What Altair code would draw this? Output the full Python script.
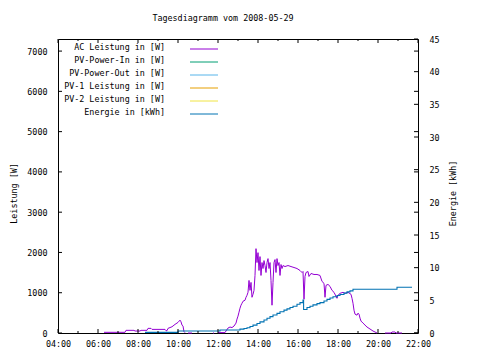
import altair as alt
import pandas as pd

FONT = "DejaVu Sans Mono"
FS = 8.4

title_text = "Tagesdiagramm vom 2008-05-29"
series_names = ["AC Leistung in [W]", "PV-Power-In in [W]", "PV-Power-Out in [W]",
                "PV-1 Leistung in [W]", "PV-2 Leistung in [W]", "Energie in [kWh]"]
series_colors = ["#9400d3", "#009e73", "#56b4e9", "#e69f00", "#f0e442", "#0072b2"]

# AC power (hours, W); None marks a gap in the recorded data
ac_hours = [6.3, 7.35, 7.4, 7.8, 7.85, 8.1, 8.15, 8.45, 8.5, 8.65, 8.7, 9.35, 9.4, 9.45, 9.5,
            9.7, 9.85, 10.0, 10.1, 10.15, 10.2, 10.25, 10.3, 10.35,
            None,
            10.5, 10.7,
            None,
            11.75, 11.8,
            None,
            12.0, 12.35, 12.4, 12.5, 12.6, 12.7, 12.8, 12.9, 12.95, 13.0, 13.05, 13.1, 13.15,
            13.2, 13.25, 13.35, 13.4, 13.45, 13.5, 13.55, 13.6, 13.65, 13.7, 13.75, 13.8,
            13.85, 13.9, 13.95, 14.0, 14.05, 14.1, 14.15, 14.2, 14.25, 14.3, 14.35, 14.4,
            14.45, 14.5, 14.55, 14.6, 14.65, 14.7, 14.75, 14.8, 14.85, 14.9, 14.95, 15.0,
            15.05, 15.1, 15.15, 15.2, 15.25, 15.35, 15.5, 15.65, 15.8, 15.95, 16.1, 16.2,
            16.25, 16.3, 16.35, 16.4, 16.5, 16.55, 16.65, 16.8, 16.95, 17.1, 17.2, 17.3,
            17.35, 17.4, 17.5, 17.6, 17.7, 17.8, 17.9, 17.95, 18.0, 18.1, 18.25, 18.35,
            18.5, 18.65, 18.7, 18.75, 18.8, 18.85, 18.95, 19.0, 19.05, 19.1, 19.15, 19.25,
            19.35, 19.45, 19.6, 19.75, 19.85, 19.95,
            None,
            20.35, 20.65, 20.7, 20.85, 20.9, 21.2]
ac_watts = [17, 17, 66, 66, 49, 49, 66, 66, 115, 115, 90, 90, 57, 57, 115,
            155, 214, 263, 320, 278, 197, 172, 32, 7,
            None,
            0, 0,
            None,
            0, 0,
            None,
            10, 10, 50, 123, 148, 135, 172, 246, 345, 419, 517, 616, 690,
            739, 788, 813, 887, 936, 1010, 1305, 1059, 1256, 887, 961, 1059,
            1429, 2094, 1749, 1995, 1552, 1897, 1429, 1749, 1601, 1798, 1675, 1502,
            1749, 1847, 1601, 1749, 1305, 690, 1256, 1749, 1823, 1502, 1847, 1675,
            1749, 1429, 1700, 1601, 1675, 1650, 1675, 1650, 1626, 1601, 1552, 1502,
            1527, 837, 1404, 1502, 1527, 1404, 1478, 1453, 1453, 1429, 1281, 1232,
            887, 1182, 1207, 1158, 1059, 1010, 911, 862, 936, 985, 1010, 985,
            1010, 961, 862, 739, 566, 468, 443, 493, 468, 369, 296, 246,
            197, 148, 99, 49, 25, 0,
            None,
            0, 0, 25, 25, 0, 0]

# Cumulative energy (hours, kWh)
energy_hours = [8.35, 10.0, 12.1, 13.1, 13.3, 13.45, 13.6, 13.75, 13.95, 14.1, 14.3, 14.45,
                14.6, 14.75, 14.95, 15.1, 15.3, 15.45, 15.6, 15.75, 15.95, 16.1, 16.25, 16.28,
                16.45, 16.6, 16.75, 16.95, 17.1, 17.3, 17.45, 17.6, 17.75, 17.95, 18.1, 18.3,
                18.45, 18.6, 18.75, 20.95, 21.7]
energy_kwh = [0.1, 0.3, 0.46, 0.6, 0.7, 0.8, 1.0, 1.2, 1.45, 1.7, 2.0, 2.25,
              2.5, 2.75, 3.0, 3.25, 3.5, 3.7, 3.9, 4.1, 4.4, 4.65, 5.05, 3.6,
              3.9, 4.1, 4.3, 4.5, 4.65, 4.9, 5.15, 5.35, 5.55, 5.75, 5.9, 6.1,
              6.3, 6.45, 6.7, 7.0, 7.0]

x_major = [4, 6, 8, 10, 12, 14, 16, 18, 20, 22]
x_minor = [5, 7, 9, 11, 13, 15, 17, 19, 21]
w_ticks = [0, 1000, 2000, 3000, 4000, 5000, 6000, 7000]
k_ticks = [0, 5, 10, 15, 20, 25, 30, 35, 40, 45]
W_DOMAIN = [0, 7300]
K_DOMAIN = [0, 45]
X_DOMAIN = [4, 22]

# --- build tables ---
rows, seg = [], 0
for h, w in zip(ac_hours, ac_watts):
    if h is None:
        seg += 1
        continue
    rows.append({"hour": h, "watts": w, "seg": seg, "series": series_names[0]})
ac_df = pd.DataFrame(rows)
en_df = pd.DataFrame({"hour": energy_hours, "kwh": energy_kwh, "series": series_names[5]})
leg_df = pd.DataFrame({"series": series_names, "row": list(range(len(series_names)))})

color_scale = alt.Scale(domain=series_names, range=series_colors)
xscale = alt.Scale(domain=X_DOMAIN, nice=False, zero=False)
wscale = alt.Scale(domain=W_DOMAIN, nice=False, zero=False)
kscale = alt.Scale(domain=K_DOMAIN, nice=False, zero=False)

axis_common = dict(ticks=False, domain=False, grid=False, labelFont=FONT, labelFontSize=FS,
                   labelColor="black", titleFont=FONT, titleFontSize=FS,
                   titleFontWeight="normal", titleColor="black")

x_axis = alt.Axis(
    values=x_major, title=None, labelPadding=6, labelFlush=False,
    labelExpr="(datum.value < 10 ? '0' : '') + datum.value + ':00'", **axis_common)
x_enc = alt.X("hour:Q", scale=xscale, axis=x_axis)

ac_line = alt.Chart(ac_df).mark_line(strokeWidth=1).encode(
    x=x_enc,
    y=alt.Y("watts:Q", scale=wscale, axis=alt.Axis(
        orient="left", values=w_ticks, format="d", title="Leistung [W]", labelPadding=11,
        titleAngle=270, titleX=-45, titleY=154, titleAlign="center",
        titleBaseline="middle", **axis_common)),
    color=alt.Color("series:N", scale=color_scale, legend=None),
    detail="seg:N",
)

en_line = alt.Chart(en_df).mark_line(strokeWidth=1.1, interpolate="step-after").encode(
    x=x_enc,
    y=alt.Y("kwh:Q", scale=kscale, axis=alt.Axis(
        orient="right", values=k_ticks, format="d", title="Energie [kWh]", labelPadding=11,
        titleAngle=270, titleX=34, titleY=154, titleAlign="center",
        titleBaseline="middle", **axis_common)),
    color=alt.Color("series:N", scale=color_scale, legend=None),
)

tick_style = dict(color="black", strokeWidth=1)
xmaj_df = pd.DataFrame({"hour": x_major})
xmin_df = pd.DataFrame({"hour": x_minor})
bot_major = alt.Chart(xmaj_df).mark_rule(**tick_style).encode(
    x=x_enc, y=alt.value(294), y2=alt.value(290))
bot_minor = alt.Chart(xmin_df).mark_rule(**tick_style).encode(
    x=x_enc, y=alt.value(294), y2=alt.value(292))
top_major = alt.Chart(xmaj_df).mark_rule(**tick_style).encode(
    x=x_enc, y=alt.value(0), y2=alt.value(4))
top_minor = alt.Chart(xmin_df).mark_rule(**tick_style).encode(
    x=x_enc, y=alt.value(0), y2=alt.value(2))

w_df = pd.DataFrame({"w": w_ticks})
k_df = pd.DataFrame({"k": k_ticks})
left_ticks = alt.Chart(w_df).mark_rule(**tick_style).encode(
    y=alt.Y("w:Q", scale=wscale, axis=None), x=alt.value(0), x2=alt.value(4))
right_wticks = alt.Chart(w_df).mark_rule(**tick_style).encode(
    y=alt.Y("w:Q", scale=wscale, axis=None), x=alt.value(356), x2=alt.value(360))
right_kticks = alt.Chart(k_df).mark_rule(**tick_style).encode(
    y=alt.Y("k:Q", scale=kscale, axis=None), x=alt.value(356), x2=alt.value(360))

leg_y = alt.Y("row:Q", scale=alt.Scale(domain=[0, 5], range=[10, 75], zero=False, nice=False),
              axis=None)
leg_text = alt.Chart(leg_df).mark_text(
    align="right", baseline="middle", font=FONT, fontSize=FS, color="black", dy=-2
).encode(y=leg_y, x=alt.value(107), text="series:N")
leg_lines = alt.Chart(leg_df).mark_rule(strokeWidth=1).encode(
    y=leg_y, x=alt.value(132), x2=alt.value(160),
    color=alt.Color("series:N", scale=color_scale, legend=None))

chart = alt.layer(
    ac_line, en_line, bot_major, bot_minor, top_major, top_minor,
    left_ticks, right_wticks, right_kticks, leg_text, leg_lines
).resolve_scale(y="independent").properties(
    width=360, height=294,
    title=alt.TitleParams(text=title_text, font=FONT, fontSize=FS, fontWeight="normal",
                          color="black", anchor="middle", dx=-15, offset=13),
    autosize=alt.AutoSizeParams(type="none"),
    padding={"left": 50, "top": 31, "right": 54, "bottom": 18},
    background="white",
).configure_view(stroke="black", strokeWidth=1)

chart.save("out.html", embed_options={"renderer": "svg", "actions": False})
